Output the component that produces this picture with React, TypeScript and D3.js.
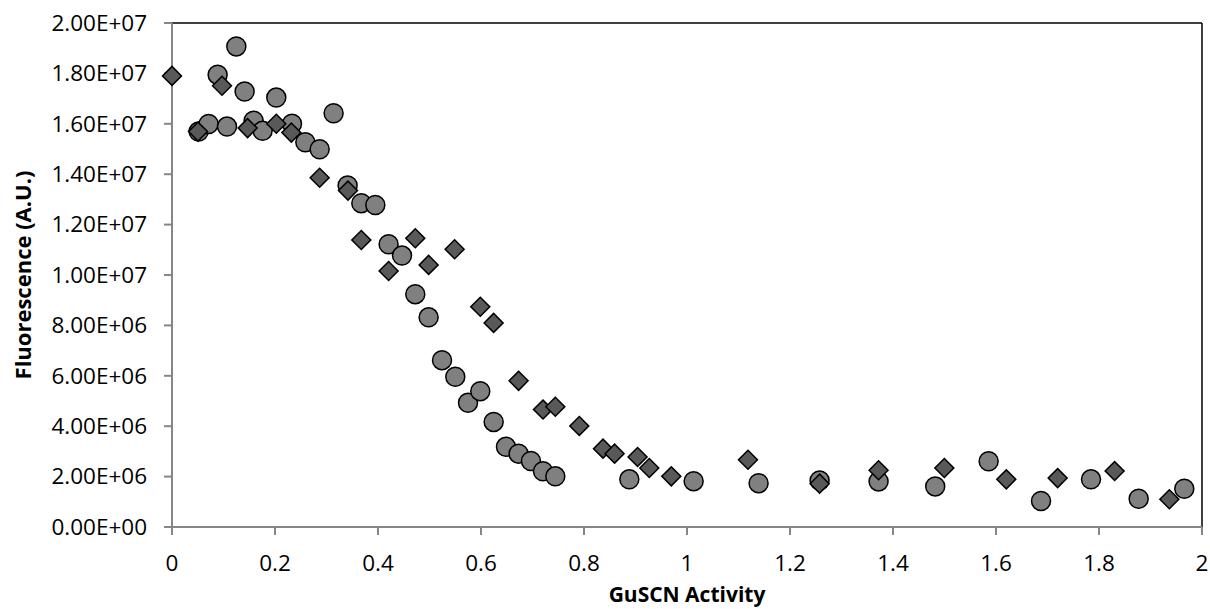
import React from "react";
import * as d3 from "d3";

const circleX = [0.0517, 0.0711, 0.0886, 0.1068, 0.1249, 0.141, 0.1585, 0.176, 0.2025, 0.233, 0.2589, 0.2867, 0.3138, 0.341, 0.3676, 0.3948, 0.4206, 0.4466, 0.4724, 0.4983, 0.5243, 0.5501, 0.5748, 0.5986, 0.6246, 0.6485, 0.673, 0.697, 0.7204, 0.7443, 0.888, 1.0129, 1.139, 1.2575, 1.372, 1.482, 1.5857, 1.6874, 1.7845, 1.877, 1.9656];
const circleY = [1.569e7, 1.599e7, 1.795e7, 1.589e7, 1.907e7, 1.728e7, 1.612e7, 1.572e7, 1.704e7, 1.6e7, 1.527e7, 1.499e7, 1.642e7, 1.355e7, 1.285e7, 1.278e7, 1.122e7, 1.077e7, 9.24e6, 8.32e6, 6.62e6, 5.96e6, 4.93e6, 5.39e6, 4.17e6, 3.18e6, 2.91e6, 2.62e6, 2.21e6, 2.01e6, 1.89e6, 1.82e6, 1.74e6, 1.85e6, 1.81e6, 1.61e6, 2.61e6, 1.03e6, 1.89e6, 1.12e6, 1.52e6];

const diamondX = [0, 0.0505, 0.0971, 0.1468, 0.2025, 0.2317, 0.2867, 0.3417, 0.3676, 0.4206, 0.4724, 0.4983, 0.5488, 0.5986, 0.6245, 0.673, 0.7204, 0.7443, 0.7909, 0.8369, 0.8594, 0.904, 0.9268, 0.9695, 1.1184, 1.2575, 1.372, 1.4997, 1.62, 1.7197, 1.8303, 1.9366];
const diamondY = [1.79e7, 1.569e7, 1.751e7, 1.583e7, 1.6e7, 1.565e7, 1.386e7, 1.335e7, 1.139e7, 1.016e7, 1.146e7, 1.04e7, 1.102e7, 8.74e6, 8.1e6, 5.8e6, 4.66e6, 4.77e6, 4.01e6, 3.11e6, 2.91e6, 2.78e6, 2.34e6, 2.01e6, 2.67e6, 1.72e6, 2.25e6, 2.34e6, 1.89e6, 1.94e6, 2.22e6, 1.1e6];

const xTicks = [0, 0.2, 0.4, 0.6, 0.8, 1, 1.2, 1.4, 1.6, 1.8, 2];
const yTicks = [0, 2e6, 4e6, 6e6, 8e6, 1e7, 1.2e7, 1.4e7, 1.6e7, 1.8e7, 2e7];

const xTitle = "GuSCN Activity";
const yTitle = "Fluorescence (A.U.)";

const W = 1210;
const H = 609;
const left = 172;
const right = 1202;
const top = 23;
const bottom = 527;

const fmtY = (v: number) => {
  const s = v.toExponential(2).toUpperCase();
  const m = s.match(/^(.*)E([+-])(\d+)$/);
  if (!m) return s;
  return `${m[1]}E${m[2]}${m[3].padStart(2, "0")}`;
};

export default function App() {
  const x = d3.scaleLinear().domain([0, 2]).range([left, right]);
  const y = d3.scaleLinear().domain([0, 2e7]).range([bottom, top]);
  const diamond = d3.symbol().type(d3.symbolSquare).size(180)();
  const font = "'Open Sans', 'Noto Sans', sans-serif";
  const axisColor = "#868686";

  return (
    <svg
      width={W}
      height={H}
      style={{ position: "absolute", left: 0, top: 0, background: "#fff" }}
      fontFamily={font}
    >
      <line x1={left} x2={right} y1={top} y2={top} stroke="#000" strokeWidth={1.5} />
      <line x1={right} x2={right} y1={top} y2={bottom} stroke="#000" strokeWidth={1.5} />
      <line x1={left} x2={left} y1={top} y2={bottom} stroke={axisColor} strokeWidth={2} />
      <line x1={left} x2={right} y1={bottom} y2={bottom} stroke={axisColor} strokeWidth={2} />
      {yTicks.map((t) => (
        <g key={"y" + t}>
          <line x1={left - 8} x2={left} y1={y(t)} y2={y(t)} stroke={axisColor} strokeWidth={2} />
          <text x={left - 25} y={y(t)} dy="0.35em" textAnchor="end" fontSize={22.5} fill="#000">
            {fmtY(t)}
          </text>
        </g>
      ))}
      {xTicks.map((t) => (
        <g key={"x" + t}>
          <line x1={x(t)} x2={x(t)} y1={bottom} y2={bottom + 8} stroke={axisColor} strokeWidth={2} />
          <text x={x(t)} y={bottom + 36} dy="0.35em" textAnchor="middle" fontSize={22.5} fill="#000">
            {String(t)}
          </text>
        </g>
      ))}
      <text
        x={(left + right) / 2}
        y={602}
        textAnchor="middle"
        fontSize={21}
        fontWeight="bold"
        fill="#000"
      >
        {xTitle}
      </text>
      <text
        transform={`translate(23, ${(top + bottom) / 2}) rotate(-90)`}
        dy="0.35em"
        textAnchor="middle"
        fontSize={22}
        fontWeight="bold"
        fill="#000"
      >
        {yTitle}
      </text>
      {circleX.map((cx, i) => (
        <circle
          key={"c" + i}
          cx={x(cx)}
          cy={y(circleY[i])}
          r={9.5}
          fill="#808080"
          stroke="#000"
          strokeWidth={1.5}
        />
      ))}
      {diamondX.map((dx, i) => (
        <path
          key={"d" + i}
          d={diamond ?? ""}
          transform={`translate(${x(dx)}, ${y(diamondY[i])}) rotate(45)`}
          fill="#595959"
          stroke="#000"
          strokeWidth={1.5}
        />
      ))}
    </svg>
  );
}
